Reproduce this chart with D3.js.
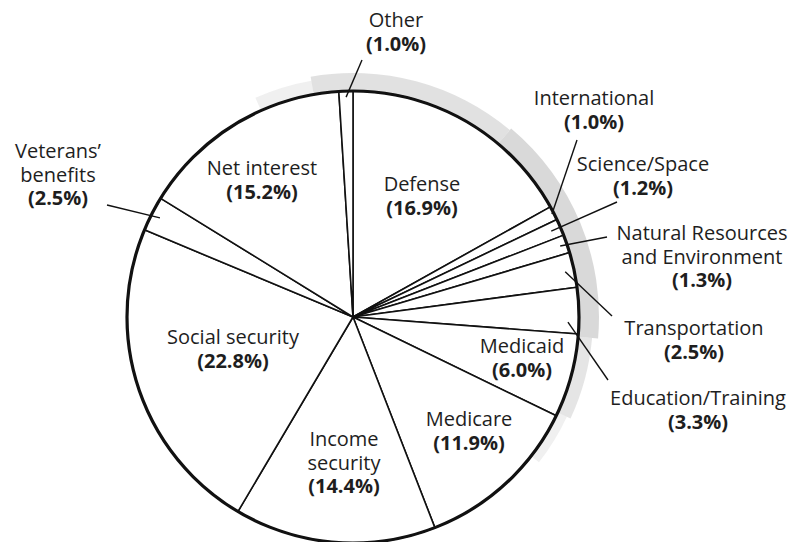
<!DOCTYPE html>
<html>
<head>
<meta charset="utf-8">
<script src="https://cdn.jsdelivr.net/npm/d3@7"></script>
<style>
  body { margin: 0; background: #fff; }
  text { font-family: "Open Sans", "Noto Sans", sans-serif; fill: #1e1e1e; }
</style>
</head>
<body>
<script>
// data: federal outlays by function, share of total (%)
var categories = ["Defense", "International", "Science/Space", "Natural Resources and Environment",
  "Transportation", "Education/Training", "Medicaid", "Medicare", "Income security",
  "Social security", "Veterans’ benefits", "Net interest", "Other"];
var shares = [16.9, 1.0, 1.2, 1.3, 2.5, 3.3, 6.0, 11.9, 14.4, 22.8, 2.5, 15.2, 1.0];
// how each name is broken over lines in the label
var nameLines = [["Defense"], ["International"], ["Science/Space"], ["Natural Resources", "and Environment"],
  ["Transportation"], ["Education/Training"], ["Medicaid"], ["Medicare"], ["Income", "security"],
  ["Social security"], ["Veterans’", "benefits"], ["Net interest"], ["Other"]];

var width = 802, height = 542;
var cx = 353, cy = 317, radius = 226;

// label placement (centre x, first baseline) + leader lines for the small slices
var labelPos = {
  "Defense": [422, 191], "International": [594, 105], "Science/Space": [643, 171],
  "Natural Resources and Environment": [702, 240], "Transportation": [694, 335],
  "Education/Training": [698, 405], "Medicaid": [522, 353], "Medicare": [469, 426],
  "Income security": [344, 446], "Social security": [233, 344], "Veterans’ benefits": [58, 158],
  "Net interest": [262, 175], "Other": [396, 27]
};
// leader: r = radius of the inner end, t = where in the slice (0..1), end = outer point
var leaders = {
  "Other": {r: 220, t: 0.5, end: [362, 60]},
  "International": {r: 224, t: 0.5, end: [577, 140]},
  "Science/Space": {r: 216, t: 0.5, end: [617, 202]},
  "Natural Resources and Environment": {r: 219, t: 0.5, end: [607, 237]},
  "Transportation": {r: 217, t: 0.5, end: [612, 316]},
  "Education/Training": {r: 215, t: 0.75, end: [608, 380]},
  "Veterans’ benefits": {r: 217, t: 0.5, end: [107, 205]}
};

var svg = d3.select("body").append("svg")
  .attr("width", width)
  .attr("height", height);

var g = svg.append("g").attr("transform", "translate(" + cx + "," + cy + ")");

// grey scan shadow along the right side of the page
var toRad = Math.PI / 180;
var shadow = [
  {a0: -24, a1: -10, op: 0.2, w: 14},
  {a0: -10, a1: 40, op: 0.4, w: 18},
  {a0: 40, a1: 95, op: 0.5, w: 20},
  {a0: 95, a1: 115, op: 0.35, w: 14},
  {a0: 115, a1: 128, op: 0.2, w: 10}
];
g.selectAll("path.shadow")
  .data(shadow)
  .enter()
  .append("path")
  .attr("class", "shadow")
  .attr("d", function(d) {
    return d3.arc()({innerRadius: radius + 1, outerRadius: radius + d.w,
      startAngle: d.a0 * toRad, endAngle: d.a1 * toRad});
  })
  .style("fill", "#b4b4b4")
  .style("opacity", function(d) { return d.op; });

var pie = d3.pie().sort(null).value(function(d) { return d; }).startAngle(0).endAngle(2 * Math.PI);
var arcs = pie(shares);
var arc = d3.arc().innerRadius(0).outerRadius(radius);

g.selectAll("path.slice")
  .data(arcs)
  .enter()
  .append("path")
  .attr("class", "slice")
  .attr("d", arc)
  .style("fill", "#fff")
  .style("stroke", "#111")
  .style("stroke-width", 1.6)
  .style("stroke-linejoin", "round");

// thick outline
g.append("circle")
  .attr("r", radius)
  .style("fill", "none")
  .style("stroke", "#111")
  .style("stroke-width", 3.2);

// leader lines
arcs.forEach(function(a, i) {
  var L = leaders[categories[i]];
  if (!L) return;
  var ang = a.startAngle + (a.endAngle - a.startAngle) * L.t;
  var x1 = L.r * Math.sin(ang), y1 = -L.r * Math.cos(ang);
  g.append("line")
    .attr("x1", x1).attr("y1", y1)
    .attr("x2", L.end[0] - cx).attr("y2", L.end[1] - cy)
    .style("stroke", "#111")
    .style("stroke-width", 1.4);
});

// labels
var fmt = d3.format(".1f");
var lh = 23.5;
categories.forEach(function(c, i) {
  var p = labelPos[c];
  var t = svg.append("text")
    .attr("text-anchor", "middle")
    .style("font-size", "20px");
  nameLines[i].forEach(function(s, k) {
    t.append("tspan").attr("x", p[0]).attr("y", p[1] + k * lh).text(s);
  });
  t.append("tspan")
    .attr("x", p[0])
    .attr("y", p[1] + nameLines[i].length * lh)
    .style("font-weight", "bold")
    .text("(" + fmt(shares[i]) + "%)");
});
</script>
</body>
</html>
